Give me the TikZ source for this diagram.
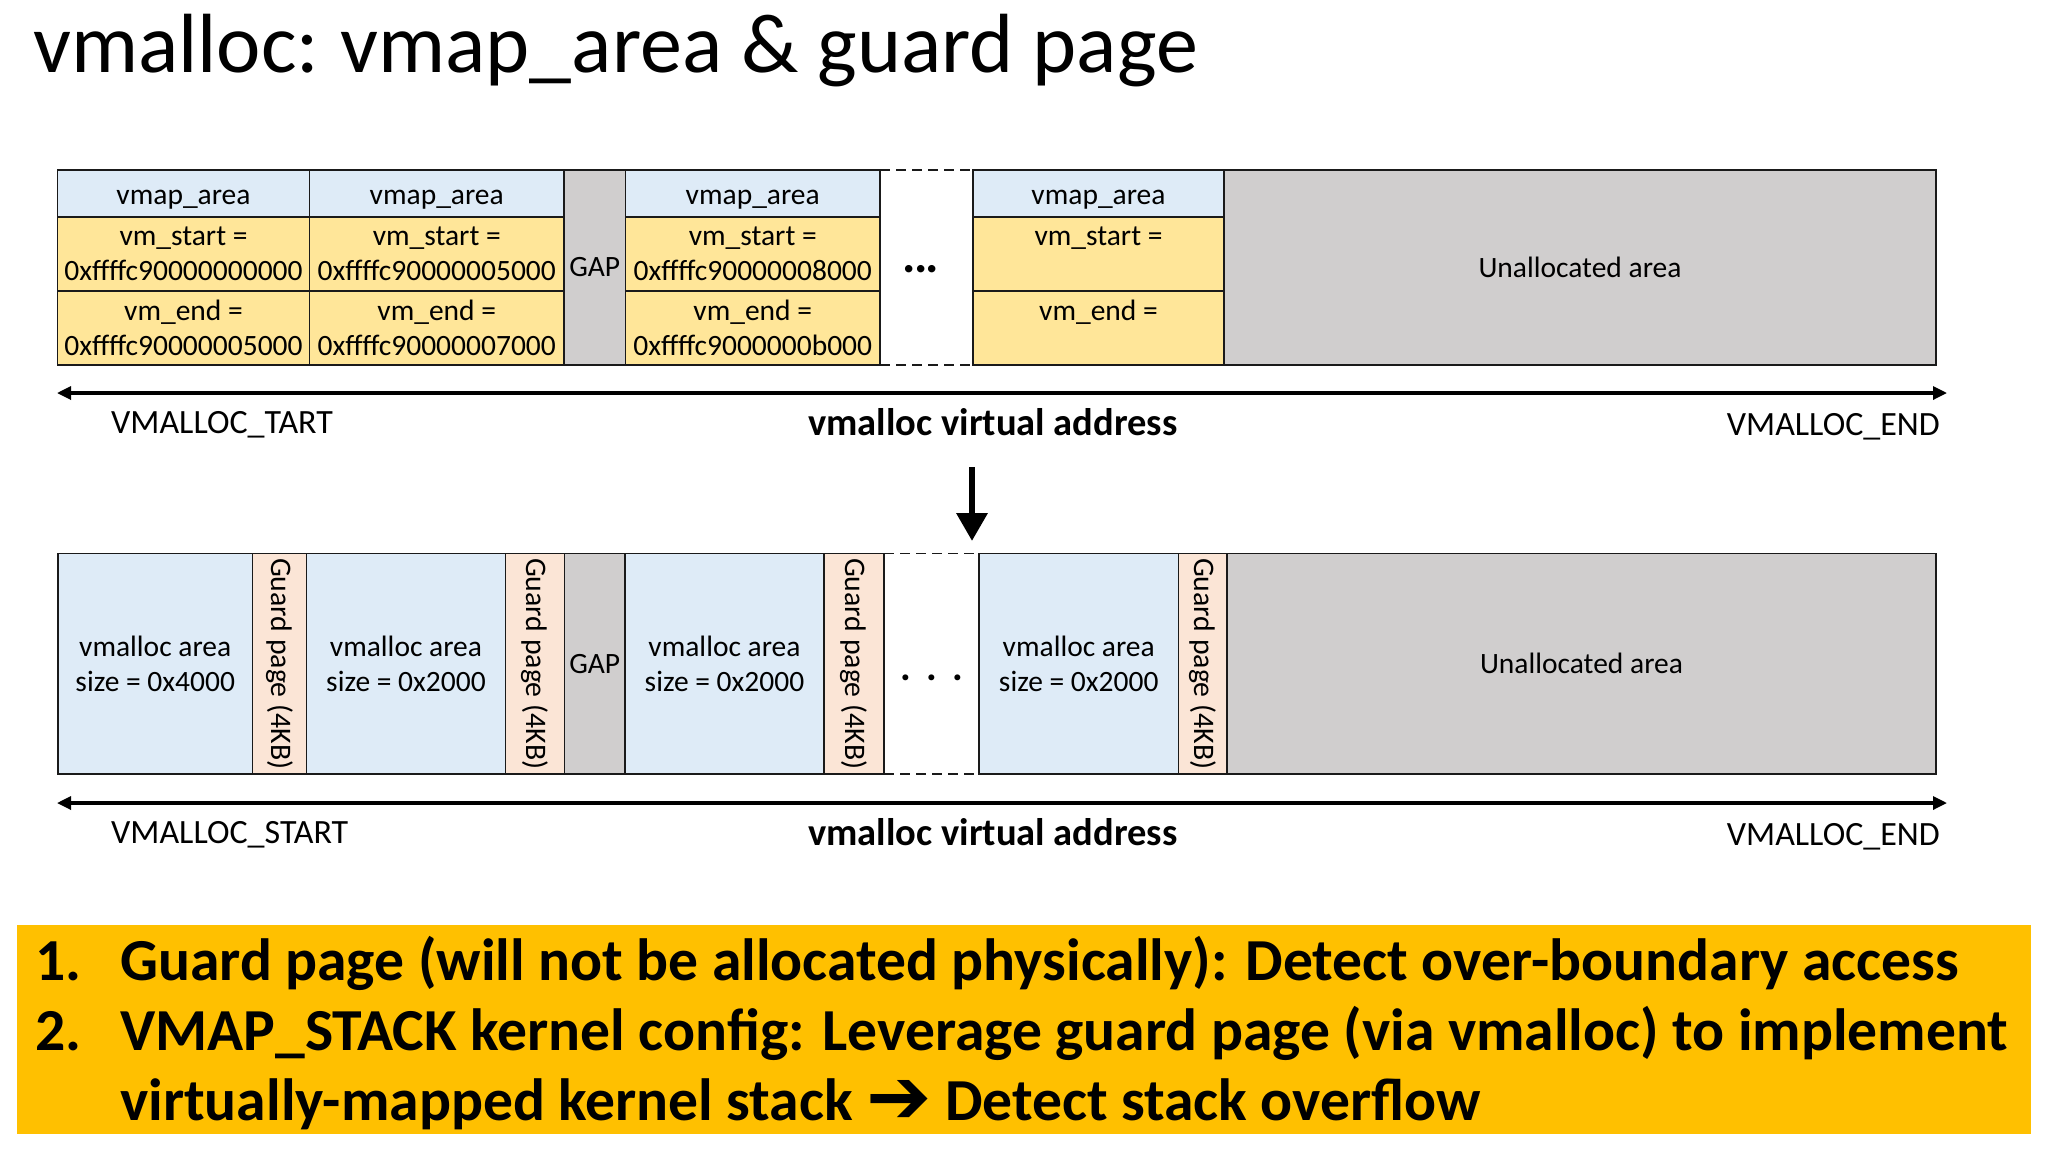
\documentclass[tikz,border=0pt]{standalone}
\usepackage{fontspec}
\setmainfont{Carlito}
\newfontfamily\djv{DejaVu Sans}
\usetikzlibrary{arrows.meta}
\definecolor{hdr}{HTML}{DEEBF7}
\definecolor{ylw}{HTML}{FFE699}
\definecolor{gry}{HTML}{D0CECE}
\definecolor{grd}{HTML}{FBE5D6}
\definecolor{org}{HTML}{FFC000}
\definecolor{edge}{HTML}{1A1A1A}
\newcommand\mkcell[7]{\node[cell,#6,minimum width={#4-#2},minimum height={#5-#3}] (#1) at (#2,#3) {#7};}
\begin{document}
\begin{tikzpicture}[x=1pt,y=-1pt,
  cell/.style={draw=edge, line width=1.8pt, inner sep=0pt, outer sep=0pt, anchor=north west, align=center, font=\fontsize{29.5}{35}\selectfont},
  hcell/.style={fill=hdr, text height=22pt, text depth=0pt},
  gtext/.style={rotate=-90, inner sep=0pt, font=\fontsize{29.8}{35}\selectfont},
  dashline/.style={draw=edge, line width=1.8pt, dash pattern=on 10pt off 6pt},
  lbl/.style={inner sep=0pt, font=\fontsize{34}{40}\selectfont},
  lblb/.style={inner sep=0pt, font=\fontsize{38.5}{44}\selectfont\bfseries},
  axis/.style={draw=black, line width=3.2pt, {Triangle[length=14pt,width=13pt]}-{Triangle[length=14pt,width=13pt]}},
  notetext/.style={inner sep=0pt, anchor=base west, font=\fontsize{59.6}{70}\selectfont\bfseries}
]
\useasboundingbox (0,0) rectangle (2048,1152);
\fill[white] (0,0) rectangle (2048,1152);

% title
\node[inner sep=0pt, anchor=base west, font=\fontsize{84}{100}\selectfont] (title) at (33,72) {vmalloc:\kern-4pt{} vmap\_area \& guard page};

% top row
\mkcell{h1}{57.5}{170}{309.5}{217}{hcell}{vmap\_area}
\mkcell{s1}{57.5}{217}{309.5}{291}{fill=ylw}{vm\_start =\\0xffffc90000000000}
\mkcell{e1}{57.5}{291}{309.5}{365}{fill=ylw}{vm\_end =\\0xffffc90000005000}
\mkcell{h2}{309.5}{170}{564}{217}{hcell}{vmap\_area}
\mkcell{s2}{309.5}{217}{564}{291}{fill=ylw}{vm\_start =\\0xffffc90000005000}
\mkcell{e2}{309.5}{291}{564}{365}{fill=ylw}{vm\_end =\\0xffffc90000007000}
\mkcell{gap1}{564}{170}{625.5}{365}{fill=gry}{GAP}
\mkcell{h3}{625.5}{170}{880}{217}{hcell}{vmap\_area}
\mkcell{s3}{625.5}{217}{880}{291}{fill=ylw}{vm\_start =\\0xffffc90000008000}
\mkcell{e3}{625.5}{291}{880}{365}{fill=ylw}{vm\_end =\\0xffffc9000000b000}
\mkcell{h4}{973}{170}{1224}{217}{hcell}{vmap\_area}
\mkcell{s4}{973}{217}{1224}{291}{fill=ylw}{vm\_start =\\\mbox{}}
\mkcell{e4}{973}{291}{1224}{365}{fill=ylw}{vm\_end =\\\mbox{}}
\mkcell{un1}{1224}{170}{1936}{365}{fill=gry}{Unallocated area}
\draw[dashline] (h3.north east) -- (h4.north west);
\draw[dashline] (e3.south east) -- (e4.south west);
\node[inner sep=0pt, font=\fontsize{50}{56}\selectfont\bfseries] (dots1) at (921,269) {.\kern-2pt.\kern-2pt.};

% top axis
\coordinate (a1l) at (57,393);
\coordinate (a1r) at (1947,393);
\draw[axis] (a1l) -- (a1r);
\node[lbl, anchor=base west] (l1) at (111,433) {VMALLOC\_TART};
\node[lblb, anchor=base] (m1) at (993,435) {vmalloc virtual address};
\node[lbl, anchor=base east] (r1) at (1940,435) {VMALLOC\_END};

% down arrow
\coordinate (d1) at (972,467);
\coordinate (d2) at (972,541);
\draw[draw=black, line width=6.5pt, -{Triangle[length=28pt,width=30pt]}] (d1) -- (d2);

% bottom row
\mkcell{v1}{58}{553.5}{252.5}{774}{fill=hdr}{vmalloc area\\size = 0x4000}
\mkcell{g1}{252.5}{553.5}{306.5}{774}{fill=grd}{}
\mkcell{v2}{306.5}{553.5}{505.5}{774}{fill=hdr}{vmalloc area\\size = 0x2000}
\mkcell{g2}{505.5}{553.5}{564.5}{774}{fill=grd}{}
\mkcell{gap2}{564.5}{553.5}{625}{774}{fill=gry}{GAP}
\mkcell{v3}{625}{553.5}{824}{774}{fill=hdr}{vmalloc area\\size = 0x2000}
\mkcell{g3}{824}{553.5}{884}{774}{fill=grd}{}
\mkcell{v4}{979}{553.5}{1178.5}{774}{fill=hdr}{vmalloc area\\size = 0x2000}
\mkcell{g4}{1178.5}{553.5}{1227}{774}{fill=grd}{}
\mkcell{un2}{1227}{553.5}{1936}{774}{fill=gry}{Unallocated area}
\node[gtext] (g1t) at (g1.center) {Guard page (4KB)};
\node[gtext] (g2t) at (g2.center) {Guard page (4KB)};
\node[gtext] (g3t) at (g3.center) {Guard page (4KB)};
\node[gtext] (g4t) at (g4.center) {Guard page (4KB)};
\draw[dashline] (g3.north east) -- (v4.north west);
\draw[dashline] (g3.south east) -- (v4.south west);
\node[inner sep=0pt, font=\fontsize{40}{46}\selectfont\bfseries] (dots2) at (932,678) {.\hspace{15pt}.\hspace{15pt}.};

% bottom axis
\coordinate (a2l) at (57,803);
\coordinate (a2r) at (1947,803);
\draw[axis] (a2l) -- (a2r);
\node[lbl, anchor=base west] (l2) at (111,843) {VMALLOC\_START};
\node[lblb, anchor=base] (m2) at (993,845) {vmalloc virtual address};
\node[lbl, anchor=base east] (r2) at (1940,845) {VMALLOC\_END};

% note box
\node[fill=org, inner sep=0pt, outer sep=0pt, anchor=north west, minimum width=2014, minimum height=208.5] (note) at (17,925) {};
\node[notetext] (n1) at (35,980) {1.};
\node[notetext] (t1) at (120,980) {Guard page (will not be allocated physically): Detect over-boundary access};
\node[notetext] (n2) at (35,1050) {2.};
\node[notetext] (t2) at (120,1050) {VMAP\_STACK kernel config: Leverage guard page (via vmalloc) to implement};
\node[notetext] (t3) at (120,1120) {virtually-mapped kernel stack {\djv\bfseries\fontsize{78}{78}\selectfont\raisebox{-3pt}{➔}} Detect stack overflow};
\end{tikzpicture}
\end{document}
